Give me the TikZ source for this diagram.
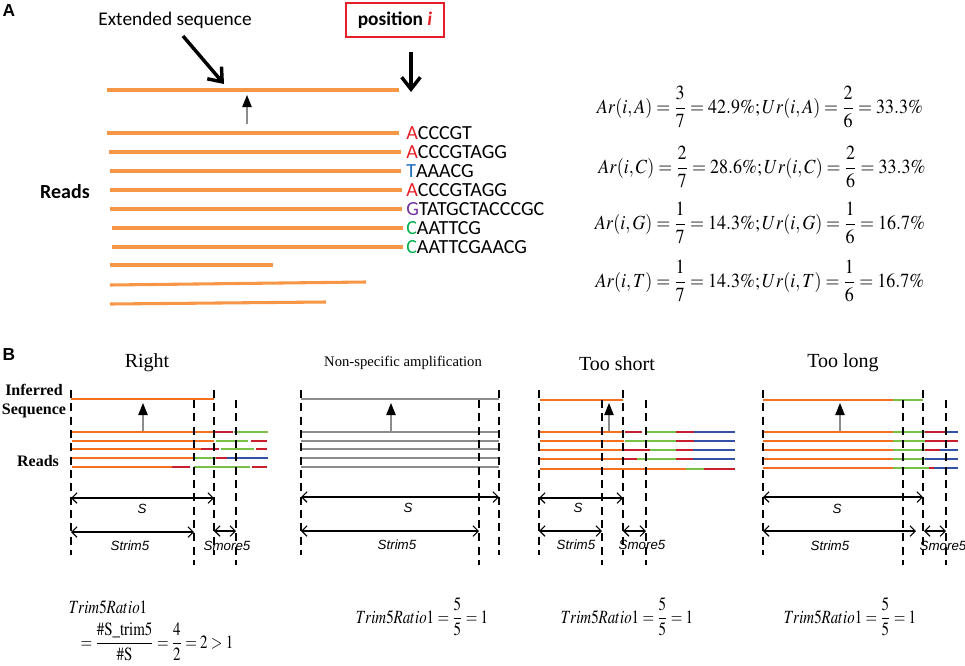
\documentclass[tikz,border=0pt]{standalone}
\usepackage{amsmath}
\usepackage{mathptmx}
\usepackage{fontspec}
\setmainfont{Liberation Serif}
\setsansfont{Liberation Sans}
\newfontfamily\calibri{Carlito}
\usetikzlibrary{arrows.meta}

\definecolor{readorange}{RGB}{247,150,70}
\definecolor{segorange}{RGB}{243,112,33}
\definecolor{segred}{RGB}{200,30,45}
\definecolor{seggreen}{RGB}{120,192,70}
\definecolor{segblue}{RGB}{50,80,165}
\definecolor{seggray}{RGB}{140,140,140}
\definecolor{basered}{RGB}{230,30,40}
\definecolor{baseblue}{RGB}{30,110,190}
\definecolor{basepurple}{RGB}{112,48,160}
\definecolor{basegreen}{RGB}{0,176,80}

\begin{document}
\begin{tikzpicture}[x=0.75pt,y=0.75pt,yscale=-1,xscale=1,
  readline/.style={draw=readorange,line width=2.3pt},
  seg/.style={line width=1.9pt},
  cutline/.style={draw=black,line width=1.9pt,dash pattern=on 6pt off 4pt},
  bigarrow/.style={draw=black,line width=2.6pt,-{Straight Barb[length=9pt,width=14pt]}},
  uparrow/.style={draw=seggray,line width=0.8pt,-{Triangle[length=9pt,width=7pt,color=black]}},
  dimarrow/.style={draw=black,line width=0.8pt,{Straight Barb[length=4pt,width=8pt]}-{Straight Barb[length=4pt,width=8pt]}},
  atext/.style={font=\calibri\fontsize{14.5}{16}\selectfont,inner sep=0.75pt},
  seqtext/.style={font=\calibri\fontsize{15}{16}\selectfont,anchor=west,inner sep=0pt},
  title/.style={font=\fontsize{15}{17}\selectfont,inner sep=0.75pt},
  lefttext/.style={font=\bfseries\fontsize{12}{14}\selectfont,inner sep=0.75pt},
  dimtext/.style={font=\sffamily\itshape\fontsize{10}{12}\selectfont,inner sep=0.75pt},
  eqtext/.style={font=\fontsize{15}{18}\selectfont,inner sep=0.75pt},
  ratiotext/.style={font=\fontsize{14}{16}\selectfont,inner sep=0.75pt}]
\path[use as bounding box] (0,0) rectangle (965,665);

%%%%%%%%%%%%%%%%%%%% Panel A %%%%%%%%%%%%%%%%%%%%
% Text Node
\node[font=\sffamily\bfseries\fontsize{13}{15}\selectfont,inner sep=0pt] (labA) at (9,11) {A};
% Text Node
\node[atext] (ext) at (175,20) {Extended sequence};
% Text Node
\node[atext,draw=basered,line width=1pt,minimum width=73.5pt,minimum height=25.5pt,font=\calibri\bfseries\fontsize{14.5}{16}\selectfont] (pos) at (395,20) {position \textcolor{basered}{\textit{i}}};

%Straight Lines: arrows onto the extended sequence
\coordinate (extTail) at (183,36);
\coordinate (extHead) at (224,84);
\draw[bigarrow] (extTail) -- (extHead);
\coordinate (posTail) at (411,52);
\coordinate (posHead) at (411,92);
\draw[bigarrow] (posTail) -- (posHead);

%Straight Lines: extended sequence
\coordinate (ext0) at (107,90);
\coordinate (ext1) at (399,90);
\draw[readline] (ext0) -- (ext1);
\coordinate (upTail) at (247,124);
\coordinate (upHead) at (247,95);
\draw[uparrow] (upTail) -- (upHead);

%Straight Lines: reads
\draw[readline] (107,133) -- (399,133);
\draw[readline] (109,152) -- (401,152);
\draw[readline] (110,171) -- (401,171);
\draw[readline] (110,190) -- (402,190);
\draw[readline] (110,209) -- (402,209);
\draw[readline] (112,228) -- (403,228);
\draw[readline] (112,247) -- (403,247);
\draw[readline] (110,265) -- (273,265);
\draw[readline] (110,285) -- (366,282);
\draw[readline] (110,304) -- (326,302);

% Text Node: bases at position i
\node[seqtext] (seq1) at (406,133) {\textcolor{basered}{A}CCCGT};
\node[seqtext] (seq2) at (406,152) {\textcolor{basered}{A}CCCGTAGG};
\node[seqtext] (seq3) at (406,171) {\textcolor{baseblue}{T}AAACG};
\node[seqtext] (seq4) at (406,190) {\textcolor{basered}{A}CCCGTAGG};
\node[seqtext] (seq5) at (406,209) {\textcolor{basepurple}{G}TATGCTACCCGC};
\node[seqtext] (seq6) at (406,228) {\textcolor{basegreen}{C}AATTCG};
\node[seqtext] (seq7) at (406,247) {\textcolor{basegreen}{C}AATTCGAACG};
% Text Node
\node[atext,font=\calibri\bfseries\fontsize{15}{16}\selectfont] (readsA) at (65,192) {Reads};

% Text Node: ratios
\node[eqtext] (eqA) at (760,107) {\scalebox{0.9}[1]{$Ar(i,A)=\dfrac{3}{7}=42.9\%;Ur(i,A)=\dfrac{2}{6}=33.3\%$}};
\node[eqtext] (eqC) at (762,167) {\scalebox{0.9}[1]{$Ar(i,C)=\dfrac{2}{7}=28.6\%;Ur(i,C)=\dfrac{2}{6}=33.3\%$}};
\node[eqtext] (eqG) at (760,223) {\scalebox{0.9}[1]{$Ar(i,G)=\dfrac{1}{7}=14.3\%;Ur(i,G)=\dfrac{1}{6}=16.7\%$}};
\node[eqtext] (eqT) at (760,281) {\scalebox{0.9}[1]{$Ar(i,T)=\dfrac{1}{7}=14.3\%;Ur(i,T)=\dfrac{1}{6}=16.7\%$}};

%%%%%%%%%%%%%%%%%%%% Panel B %%%%%%%%%%%%%%%%%%%%
% Text Node
\node[font=\sffamily\bfseries\fontsize{13}{15}\selectfont,inner sep=0pt] (labB) at (9,355) {B};
\node[lefttext] (inferred) at (34,390) {Inferred};
\node[lefttext] (sequence) at (34,411) {Sequence};
\node[lefttext] (readsB) at (38,461) {Reads};

%---------- Right ----------
\node[title] (tRight) at (147,363) {Right};
% inferred sequence
\draw[seg,segorange] (71,399) -- (214,399);
\coordinate (rUpTail) at (143,431);
\coordinate (rUpHead) at (143,403);
% reads
\draw[seg,segorange] (72,432) -- (215,432);
\draw[seg,segred] (215,432) -- (233,432);
\draw[seg,seggreen] (234,432) -- (268,432);
\draw[seg,segorange] (72,441) -- (214,441);
\draw[seg,seggreen] (216,441) -- (248,441);
\draw[seg,segred] (251,441) -- (267,441);
\draw[seg,segorange] (72,449) -- (201,449);
\draw[seg,segred] (201,449) -- (219,449);
\draw[seg,seggreen] (221,449) -- (254,449);
\draw[seg,segred] (256,449) -- (267,449);
\draw[seg,segorange] (72,458) -- (194,458);
\draw[seg,seggreen] (194,458) -- (216,458);
\draw[seg,segred] (216,458) -- (227,458);
\draw[seg,segblue] (227,458) -- (268,458);
\draw[seg,segorange] (72,467) -- (172,467);
\draw[seg,segred] (172,467) -- (190,467);
\draw[seg,seggreen] (194,467) -- (250,467);
\draw[seg,segred] (252,467) -- (267,467);
\draw[uparrow] (rUpTail) -- (rUpHead);
% lengths
\node[dimtext] (rS) at (142,509) {S};
\node[dimtext] (rStrim) at (130,546) {Strim5};
\node[dimtext] (rSmore) at (227,546) {Smore5};
\coordinate (rS0) at (71,498); \coordinate (rS1) at (214,498);
\coordinate (rT0) at (71,532); \coordinate (rT1) at (194,532);
\coordinate (rM0) at (214,531); \coordinate (rM1) at (236,531);
\draw[dimarrow] (rS0) -- (rS1);
\draw[dimarrow] (rT0) -- (rT1);
\draw[dimarrow] (rM0) -- (rM1);
% cut positions
\draw[cutline] (71,390) -- (71,555);
\draw[cutline] (194,400) -- (194,565);
\draw[cutline] (214,390) -- (214,555);
\draw[cutline] (236,400) -- (236,565);
% ratio
\node[ratiotext] (rRatio) at (108,607) {\scalebox{0.8}[1]{$Trim5Ratio1$}};
\node[ratiotext] (rRatio2) at (157,642) {\scalebox{0.8}[1]{$=\dfrac{\#\mathrm{S\_trim5}}{\#\mathrm{S}}=\dfrac{4}{2}=2>1$}};

%---------- Non-specific amplification ----------
\node[title,font=\fontsize{11}{13}\selectfont] (tNon) at (403,363) {Non-specific amplification};
\draw[seg,seggray] (301,399) -- (499,399);
\draw[seg,seggray] (301,432) -- (499,432);
\draw[seg,seggray] (301,441) -- (499,441);
\draw[seg,seggray] (301,449) -- (499,449);
\draw[seg,seggray] (301,458) -- (499,458);
\draw[seg,seggray] (301,467) -- (499,467);
\coordinate (nUpTail) at (391,431);
\coordinate (nUpHead) at (391,403);
\draw[uparrow] (nUpTail) -- (nUpHead);
\node[dimtext] (nS) at (408,508) {S};
\node[dimtext] (nStrim) at (397,545) {Strim5};
\coordinate (nS0) at (301,497); \coordinate (nS1) at (499,497);
\coordinate (nT0) at (301,531); \coordinate (nT1) at (479,531);
\draw[dimarrow] (nS0) -- (nS1);
\draw[dimarrow] (nT0) -- (nT1);
\draw[cutline] (301,390) -- (301,555);
\draw[cutline] (479,400) -- (479,565);
\draw[cutline] (499,390) -- (499,555);
\node[ratiotext] (nRatio) at (422,617) {\scalebox{0.8}[1]{$Trim5Ratio1=\dfrac{5}{5}=1$}};

%---------- Too short ----------
\node[title] (tShort) at (617,364) {Too short};
\draw[seg,segorange] (540,400) -- (623,400);
\draw[seg,segorange] (540,432) -- (624,432);
\draw[seg,segred] (625,432) -- (642,432);
\draw[seg,seggreen] (647,432) -- (676,432);
\draw[seg,segred] (676,432) -- (694,432);
\draw[seg,segblue] (694,432) -- (735,432);
\draw[seg,segorange] (540,441) -- (624,441);
\draw[seg,seggreen] (625,441) -- (676,441);
\draw[seg,segred] (676,441) -- (694,441);
\draw[seg,segblue] (694,441) -- (735,441);
\draw[seg,segorange] (540,450) -- (624,450);
\draw[seg,segred] (624,450) -- (650,450);
\draw[seg,seggreen] (650,450) -- (676,450);
\draw[seg,segred] (676,450) -- (693,450);
\draw[seg,segblue] (693,450) -- (735,450);
\draw[seg,segorange] (540,459) -- (624,459);
\draw[seg,segred] (624,459) -- (637,459);
\draw[seg,seggreen] (637,459) -- (676,459);
\draw[seg,segred] (676,459) -- (693,459);
\draw[seg,segblue] (693,459) -- (735,459);
\draw[seg,segorange] (540,469) -- (686,469);
\draw[seg,seggreen] (686,469) -- (704,469);
\draw[seg,segred] (704,469) -- (735,469);
\coordinate (sUpTail) at (609,431);
\coordinate (sUpHead) at (609,403);
\draw[uparrow] (sUpTail) -- (sUpHead);
\node[dimtext] (sS) at (578,508) {S};
\node[dimtext] (sStrim) at (576,545) {Strim5};
\node[dimtext] (sSmore) at (642,545) {Smore5};
\coordinate (sS0) at (539,498); \coordinate (sS1) at (623,498);
\coordinate (sT0) at (539,531); \coordinate (sT1) at (602,531);
\coordinate (sM0) at (623,531); \coordinate (sM1) at (646,531);
\draw[dimarrow] (sS0) -- (sS1);
\draw[dimarrow] (sT0) -- (sT1);
\draw[dimarrow] (sM0) -- (sM1);
\draw[cutline] (539,390) -- (539,555);
\draw[cutline] (602,400) -- (602,565);
\draw[cutline] (623,390) -- (623,555);
\draw[cutline] (646,400) -- (646,565);
\node[ratiotext] (sRatio) at (627,617) {\scalebox{0.8}[1]{$Trim5Ratio1=\dfrac{5}{5}=1$}};

%---------- Too long ----------
\node[title] (tLong) at (843,363) {Too long};
\draw[seg,segorange] (763,400) -- (893,400);
\draw[seg,seggreen] (893,400) -- (923,400);
\draw[seg,segorange] (763,432) -- (893,432);
\draw[seg,seggreen] (893,432) -- (925,432);
\draw[seg,segred] (925,432) -- (945,432);
\draw[seg,segblue] (945,432) -- (958,432);
\draw[seg,segorange] (763,441) -- (893,441);
\draw[seg,seggreen] (893,441) -- (925,441);
\draw[seg,segred] (925,441) -- (958,441);
\draw[seg,segorange] (763,450) -- (893,450);
\draw[seg,seggreen] (893,450) -- (925,450);
\draw[seg,segred] (925,450) -- (940,450);
\draw[seg,segblue] (940,450) -- (958,450);
\draw[seg,segorange] (763,459) -- (893,459);
\draw[seg,seggreen] (893,459) -- (925,459);
\draw[seg,segblue] (925,459) -- (958,459);
\draw[seg,segorange] (763,468) -- (893,468);
\draw[seg,seggreen] (893,468) -- (929,468);
\draw[seg,segred] (929,468) -- (934,468);
\draw[seg,segblue] (934,468) -- (958,468);
\coordinate (lUpTail) at (840,431);
\coordinate (lUpHead) at (840,403);
\draw[uparrow] (lUpTail) -- (lUpHead);
\node[dimtext] (lS) at (837,509) {S};
\node[dimtext] (lStrim) at (830,546) {Strim5};
\node[dimtext] (lSmore) at (943,546) {Smore5};
\coordinate (lS0) at (763,497); \coordinate (lS1) at (923,497);
\coordinate (lT0) at (763,531); \coordinate (lT1) at (916,531);
\coordinate (lM0) at (924,531); \coordinate (lM1) at (946,531);
\draw[dimarrow] (lS0) -- (lS1);
\draw[dimarrow] (lT0) -- (lT1);
\draw[dimarrow] (lM0) -- (lM1);
\draw[cutline] (763,390) -- (763,555);
\draw[cutline] (903,400) -- (903,565);
\draw[cutline] (923,390) -- (923,555);
\draw[cutline] (946,400) -- (946,565);
\node[ratiotext] (lRatio) at (850,617) {\scalebox{0.8}[1]{$Trim5Ratio1=\dfrac{5}{5}=1$}};

\end{tikzpicture}
\end{document}
